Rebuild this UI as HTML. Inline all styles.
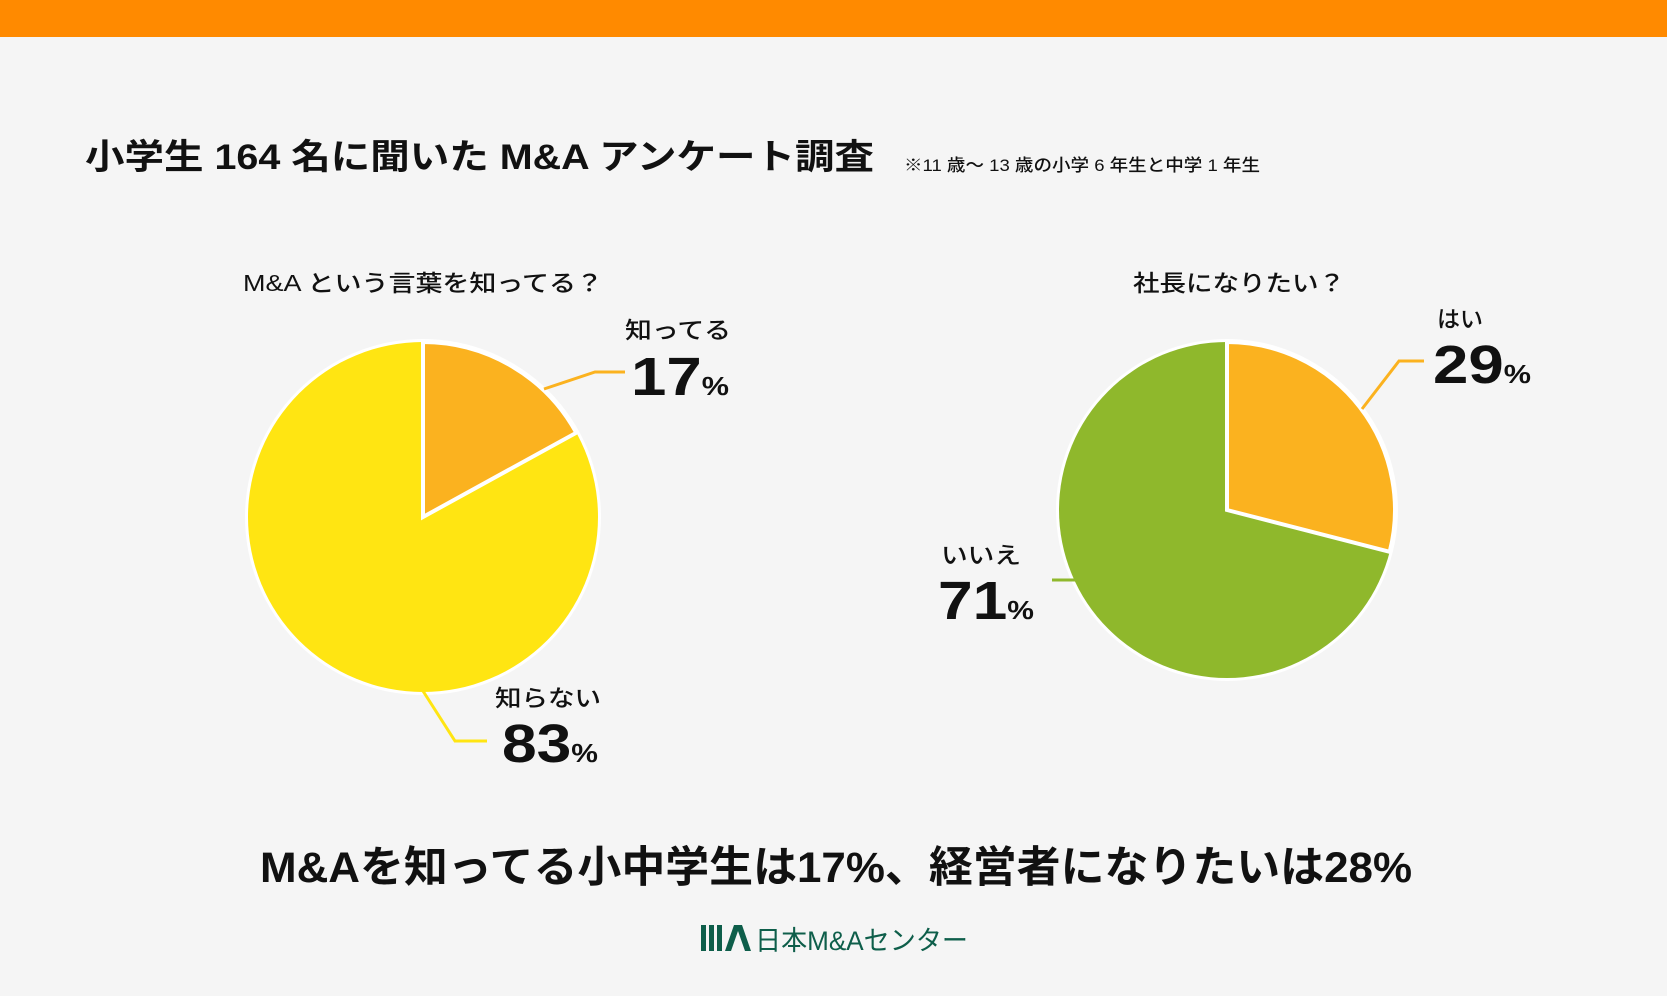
<!DOCTYPE html>
<html><head><meta charset="utf-8"><style>
html,body{margin:0;padding:0;background:#f5f5f5;}
svg{display:block;}
text{font-family:"Liberation Sans","Noto Sans CJK JP",sans-serif;fill:#111;}
</style></head><body>
<svg width="1667" height="996" viewBox="0 0 1667 996">
<rect width="1667" height="996" fill="#f5f5f5"/>
<rect width="1667" height="37" fill="#ff8a00"/>
<text x="85" y="169" font-size="35" font-weight="700" textLength="789" lengthAdjust="spacingAndGlyphs">小学生 164 名に聞いた M&amp;A アンケート調査</text>
<text x="904" y="171" font-size="17" font-weight="500" textLength="356" lengthAdjust="spacingAndGlyphs">※11 歳～ 13 歳の小学 6 年生と中学 1 年生</text>

<text x="423" y="291" font-size="23" text-anchor="middle" font-weight="500" textLength="360" lengthAdjust="spacingAndGlyphs">M&amp;A という言葉を知ってる？</text>
<text x="1239" y="291" font-size="23" text-anchor="middle" font-weight="500" textLength="212" lengthAdjust="spacingAndGlyphs">社長になりたい？</text>

<!-- left pie -->
<circle cx="423" cy="517" r="178" fill="#fff"/>
<circle cx="423" cy="517" r="175" fill="#ffe512"/>
<path d="M423,517 L423,342 A175,175 0 0 1 576.3,432.7 Z" fill="#fbb21f" stroke="#fff" stroke-width="4" stroke-linejoin="miter"/>
<polyline points="544,389 595,372 625,372" fill="none" stroke="#fbb21f" stroke-width="3"/>
<polyline points="423,691 455,741 487,741" fill="none" stroke="#ffe512" stroke-width="3"/>
<text x="625" y="338" font-size="23" font-weight="500" textLength="106" lengthAdjust="spacingAndGlyphs">知ってる</text>
<text x="631" y="395" font-size="54" font-weight="700" textLength="98" lengthAdjust="spacingAndGlyphs">17<tspan font-size="26">%</tspan></text>
<text x="495" y="706" font-size="23" font-weight="500" textLength="106" lengthAdjust="spacingAndGlyphs">知らない</text>
<text x="502" y="762" font-size="54" font-weight="700" textLength="96" lengthAdjust="spacingAndGlyphs">83<tspan font-size="26">%</tspan></text>

<!-- right pie -->
<circle cx="1227" cy="510" r="171" fill="#fff"/>
<circle cx="1227" cy="510" r="168" fill="#8fb82c"/>
<path d="M1227,510 L1227,342 A168,168 0 0 1 1389.7,551.8 Z" fill="#fbb21f" stroke="#fff" stroke-width="4"/>
<polyline points="1362,409 1399,361 1424,361" fill="none" stroke="#fbb21f" stroke-width="3"/>
<line x1="1052" y1="580" x2="1076" y2="580" stroke="#8fb82c" stroke-width="3"/>
<text x="1437" y="327" font-size="23" font-weight="500">はい</text>
<text x="1433" y="383" font-size="54" font-weight="700" textLength="98" lengthAdjust="spacingAndGlyphs">29<tspan font-size="26">%</tspan></text>
<text x="941" y="563" font-size="23" font-weight="500" textLength="80" lengthAdjust="spacingAndGlyphs">いいえ</text>
<text x="938" y="619" font-size="54" font-weight="700" textLength="96" lengthAdjust="spacingAndGlyphs">71<tspan font-size="26">%</tspan></text>

<text x="836" y="882" font-size="43" font-weight="700" text-anchor="middle" textLength="1152" lengthAdjust="spacingAndGlyphs">M&amp;Aを知ってる小中学生は17%、経営者になりたいは28%</text>

<!-- logo -->
<g fill="#0e5e4a">
<rect x="701" y="925" width="5" height="26"/>
<rect x="709" y="925" width="5" height="26"/>
<rect x="717" y="925" width="5" height="26"/>
<polygon points="725,951 734,925 742,925 751,951 745,951 738,931 731,951"/>
<text x="755" y="950" font-size="27" style="fill:#0e5e4a" textLength="213" lengthAdjust="spacingAndGlyphs">日本M&amp;Aセンター</text>
</g>
</svg>
</body></html>
